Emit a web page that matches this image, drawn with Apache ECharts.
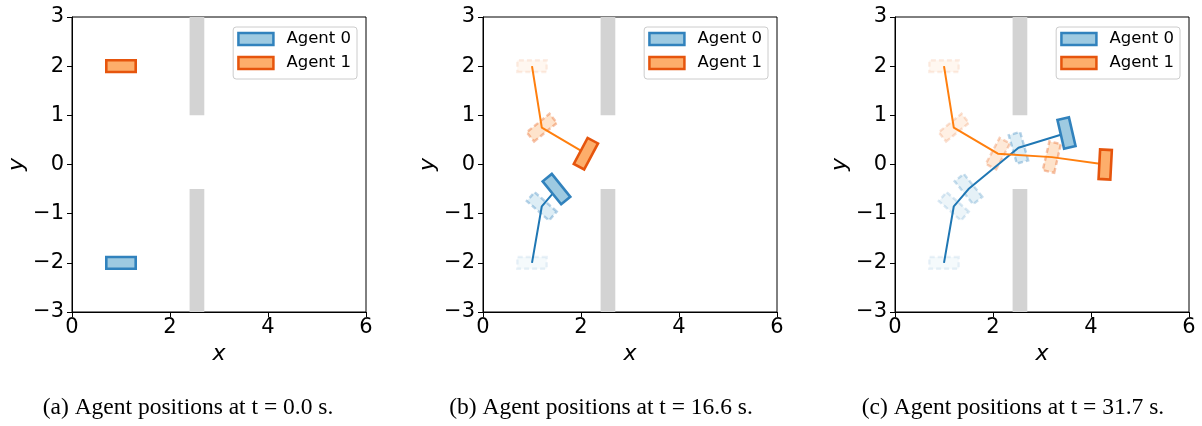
<!DOCTYPE html>
<html>
<head>
<meta charset="utf-8">
<title>Agent positions</title>
<script src="https://cdn.jsdelivr.net/npm/echarts@6/dist/echarts.min.js"></script>
<style>
  html, body { margin: 0; padding: 0; background: #fff; }
  #chart { width: 1202px; height: 426px; }
</style>
</head>
<body>
<div id="chart"></div>
<script>
// Snapshot captions, one per panel
const captions = [
  '(a) Agent positions at t = 0.0 s.',
  '(b) Agent positions at t = 16.6 s.',
  '(c) Agent positions at t = 31.7 s.'
];
const agentNames = ['Agent 0', 'Agent 1'];

// Recorded poses [x, y, heading in degrees] up to each snapshot; last pose is the current one
const agent0Poses = [
  [[1.0, -2.0, 90]],
  [[1.0, -2.0, 90], [1.2, -0.85, 49], [1.5, -0.5, 39]],
  [[1.0, -2.0, 90], [1.2, -0.85, 49], [1.5, -0.5, 39], [2.52, 0.34, 16], [3.5, 0.64, 13]]
];
const agent1Poses = [
  [[1.0, 2.0, -90]],
  [[1.0, 2.0, -90], [1.2, 0.75, -51], [2.1, 0.22, -28]],
  [[1.0, 2.0, -90], [1.2, 0.75, -51], [2.1, 0.22, -28], [3.2, 0.15, -13], [4.29, 0.0, -3]]
];

// Wall with a doorway: x extent and the y extents of its two pieces
const wallX = [2.4, 2.7];
const wallSegments = [[1, 3], [-3, -0.5]];

// Axis ranges
const xRange = [0, 6];
const yRange = [-3, 3];

// ---- drawing setup ----
const bodyLength = 0.6;   // long side of an agent footprint
const bodyWidth = 0.24;   // short side
const palette = [
  { face: [158, 202, 225], edge: [49, 130, 189], line: '#1f77b4' },
  { face: [253, 174, 107], edge: [230, 85, 13], line: '#ff7f0e' }
];
const rgba = (c, a) => `rgba(${c[0]},${c[1]},${c[2]},${a})`;
const gridLefts = [72, 483, 895];
const legendRights = [845, 434, 22];
const captionCenters = [188, 601, 1013];

// Footprint polygon for a pose; long side is perpendicular to the heading
function footprint(api) {
  const cx = api.value(0), cy = api.value(1);
  const a = (api.value(2) - 90) * Math.PI / 180;
  const ux = Math.cos(a), uy = Math.sin(a), vx = -uy, vy = ux;
  const hl = bodyLength / 2, hw = bodyWidth / 2;
  return [[1, 1], [-1, 1], [-1, -1], [1, -1]].map(([s, t]) =>
    api.coord([cx + s * hl * ux + t * hw * vx, cy + s * hl * uy + t * hw * vy]));
}

const grids = [], xAxes = [], yAxes = [], series = [], legends = [], graphics = [];
const minus = v => String(v).replace('-', '\u2212');

for (let p = 0; p < 3; p++) {
  grids.push({ left: gridLefts[p], top: 17, width: 294, height: 295,
    show: true, borderColor: '#000', borderWidth: 1, backgroundColor: 'transparent' });
  xAxes.push({
    type: 'value', gridIndex: p, min: xRange[0], max: xRange[1], interval: 2,
    name: 'x', nameLocation: 'middle', nameGap: 28,
    nameTextStyle: { fontFamily: 'DejaVu Sans', fontStyle: 'italic', fontSize: 22, color: '#000' },
    axisLine: { show: true, onZero: false, lineStyle: { color: '#000', width: 1 } },
    axisTick: { show: true, length: 5, lineStyle: { color: '#000', width: 1 } },
    axisLabel: { fontFamily: 'DejaVu Sans', fontSize: 21, color: '#000', margin: 5, formatter: minus },
    splitLine: { show: false }
  });
  yAxes.push({
    type: 'value', gridIndex: p, min: yRange[0], max: yRange[1], interval: 1,
    name: 'y', nameLocation: 'middle', nameGap: 44, nameRotate: 90,
    nameTextStyle: { fontFamily: 'DejaVu Sans', fontStyle: 'italic', fontSize: 22, color: '#000' },
    axisLine: { show: true, onZero: false, lineStyle: { color: '#000', width: 1 } },
    axisTick: { show: true, length: 5, lineStyle: { color: '#000', width: 1 } },
    axisLabel: { fontFamily: 'DejaVu Sans', fontSize: 21, color: '#000', margin: 8, formatter: minus },
    splitLine: { show: false }
  });

  // wall pieces
  series.push({
    type: 'custom', xAxisIndex: p, yAxisIndex: p, z: 1, silent: true,
    data: wallSegments.map(s => [wallX[0], s[0], wallX[1], s[1]]),
    renderItem: (params, api) => {
      const a = api.coord([api.value(0), api.value(3)]);
      const b = api.coord([api.value(2), api.value(1)]);
      return { type: 'rect', shape: { x: a[0], y: a[1], width: b[0] - a[0], height: b[1] - a[1] },
        style: { fill: '#d3d3d3' } };
    }
  });

  [agent0Poses[p], agent1Poses[p]].forEach((poses, k) => {
    const col = palette[k];
    const past = poses.slice(0, -1);
    const n = past.length;
    if (n > 0) {
      // earlier poses, fading in toward the present
      series.push({
        type: 'custom', name: agentNames[k] + ' history', xAxisIndex: p, yAxisIndex: p, z: 2, silent: true,
        data: past,
        renderItem: (params, api) => {
          const alpha = n > 1 ? 0.1 + 0.25 * params.dataIndex / (n - 1) : 0.1;
          return { type: 'polygon', shape: { points: footprint(api) },
            style: { fill: rgba(col.face, alpha), stroke: rgba(col.edge, alpha), lineWidth: 2.4, lineDash: [5, 3] } };
        }
      });
      // path travelled
      series.push({
        type: 'line', name: agentNames[k] + ' path', xAxisIndex: p, yAxisIndex: p, z: 3, silent: true,
        data: poses.map(q => [q[0], q[1]]), showSymbol: false, symbol: 'none',
        lineStyle: { color: col.line, width: 2 }
      });
    }
    // current pose
    series.push({
      type: 'custom', name: agentNames[k], xAxisIndex: p, yAxisIndex: p, z: 4,
      data: poses.slice(-1),
      itemStyle: { color: rgba(col.face, 1), borderColor: rgba(col.edge, 1), borderWidth: 2.5 },
      renderItem: (params, api) => ({
        type: 'polygon', shape: { points: footprint(api) },
        style: { fill: rgba(col.face, 1), stroke: rgba(col.edge, 1), lineWidth: 2.6 }
      })
    });
  });

  legends.push({
    right: legendRights[p], top: 27, orient: 'vertical', selectedMode: false,
    backgroundColor: '#fff', borderColor: '#cccccc', borderWidth: 1, borderRadius: 3,
    padding: [2, 6, 6, 4], itemGap: 4, itemWidth: 35, itemHeight: 12, icon: 'rect',
    textStyle: { fontFamily: 'DejaVu Sans', fontSize: 16.5, color: '#000', lineHeight: 20, padding: [0, 0, 0, 8] },
    data: agentNames.map((nm, k) => ({
      name: nm,
      itemStyle: { color: rgba(palette[k].face, 1), borderColor: rgba(palette[k].edge, 1), borderWidth: 2.5 }
    }))
  });

  graphics.push({
    type: 'text', x: captionCenters[p], y: 408,
    style: { text: captions[p], fontFamily: 'Liberation Serif', fontSize: 23.5, fill: '#000',
      align: 'center', verticalAlign: 'middle' }
  });
}

const chart = echarts.init(document.getElementById('chart'), null, { renderer: 'canvas' });
chart.setOption({
  animation: false,
  backgroundColor: '#fff',
  grid: grids, xAxis: xAxes, yAxis: yAxes,
  legend: legends,
  series: series,
  graphic: graphics
});
</script>
</body>
</html>
